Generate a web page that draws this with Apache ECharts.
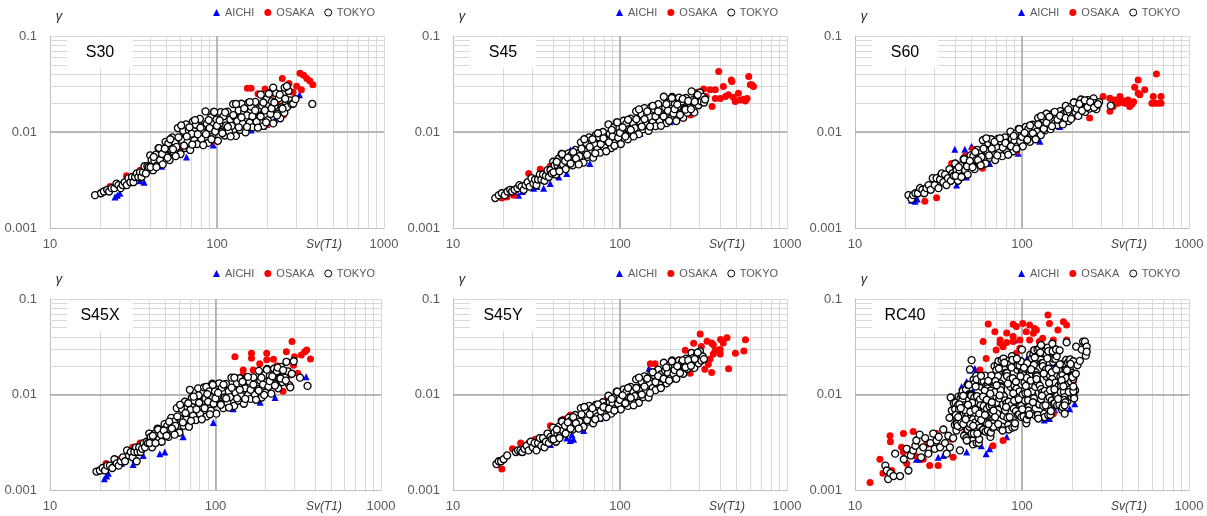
<!DOCTYPE html>
<html><head><meta charset="utf-8">
<script src="https://cdn.jsdelivr.net/npm/echarts@6/dist/echarts.min.js"></script>
<style>html,body{margin:0;padding:0;background:#fff}#c{width:1207px;height:516px}</style>
</head><body><div id="c"></div>
<script>
// ---------- texts / ticks ----------
const panelNames = ['S30', 'S45', 'S60', 'S45X', 'S45Y', 'RC40'];
const seriesNames = ['AICHI', 'OSAKA', 'TOKYO'];
const xTickLabels = ['10', '100', '1000'];
const yTickLabels = ['0.001', '0.01', '0.1'];
const xMinorLines = [20, 30, 40, 50, 60, 70, 80, 90, 200, 300, 400, 500, 600, 700, 800, 900];
const yMinorLines = [0.002, 0.003, 0.004, 0.005, 0.006, 0.007, 0.008, 0.009, 0.02, 0.03, 0.04, 0.05, 0.06, 0.07, 0.08, 0.09];
const xMajorLines = [100];
const yMajorLines = [0.01];
const xAxisName = 'Sv(T1)';
const yAxisName = 'γ';

// ---------- data: [Sv(T1), γ] ----------
const s30_aichi = [[24.5,0.0021],[25.3,0.0022],[26.2,0.0023],[34.6,0.0031],[36.6,0.003],[46.6,0.0044],[65.7,0.0055],[95,0.0073],[131,0.0097],[160,0.0105],[189,0.0114],[222,0.0134],[312,0.0244],[198,0.012]];
const s30_osaka = [[22.9,0.0027],[28.7,0.0035],[34.6,0.004],[43.5,0.0056],[55,0.006],[62,0.0068],[95,0.008],[115,0.0095],[137,0.011],[170,0.0115],[198,0.0119],[240,0.015],[250,0.015],[152,0.0286],[160,0.0286],[176,0.025],[194,0.028],[246,0.036],[270,0.032],[314,0.041],[330,0.039],[345,0.036],[360,0.034],[375,0.031],[320,0.0275],[300,0.03],[285,0.026],[230,0.021],[210,0.025],[260,0.022]];
const s30_tokyo = [[18.6,0.0022],[20.2,0.0023],[21,0.0024],[22,0.0025],[22.6,0.0024],[23.4,0.0026],[24.3,0.0026],[25,0.0029],[25.7,0.0028],[26.5,0.0026],[27.2,0.0028],[28,0.003],[28.8,0.0028],[29.5,0.0033],[30.3,0.003],[31,0.0034],[31.6,0.003],[32.3,0.0034],[33.1,0.0037],[33.8,0.0034],[34.6,0.0038],[35.3,0.0034],[36,0.0038],[36.8,0.0044],[37.5,0.0037],[38.3,0.0044],[39,0.0043],[39.8,0.0057],[40.6,0.0051],[41.4,0.004],[42.2,0.005],[43,0.0058],[43.9,0.0045],[44.7,0.0068],[45.6,0.0051],[46.5,0.0064],[47.3,0.0046],[48.2,0.0062],[49.2,0.0079],[50.1,0.0056],[51.1,0.0076],[52,0.0051],[53,0.0066],[54,0.0088],[55.1,0.0061],[56.1,0.0078],[57.2,0.007],[58.3,0.011],[59.4,0.0087],[60.5,0.0059],[61.7,0.0082],[62.9,0.0103],[64.1,0.0068],[65.3,0.012],[66.6,0.0079],[67.8,0.0104],[69.1,0.0065],[70.5,0.0096],[71.8,0.0129],[73.2,0.0082],[74.6,0.0119],[76.1,0.0075],[77.5,0.0097],[79,0.0137],[80.6,0.0085],[82.1,0.0114],[83.7,0.0098],[85.3,0.0164],[86.9,0.0122],[88.6,0.0077],[90.3,0.011],[92,0.0142],[93.8,0.0089],[95.6,0.0162],[97.5,0.0101],[99.3,0.0135],[101.2,0.0081],[103.2,0.0121],[105.2,0.0161],[107.2,0.0101],[109.3,0.0146],[111.4,0.0092],[113.5,0.0117],[115.7,0.0163],[117.9,0.0101],[120.2,0.0135],[122.5,0.0116],[124.9,0.0195],[127.3,0.0145],[129.7,0.0091],[132.2,0.013],[134.8,0.0168],[137.4,0.0105],[140,0.0197],[142.7,0.0122],[145.5,0.0162],[148.3,0.0099],[151.1,0.0149],[154,0.0201],[157,0.0125],[160,0.0184],[163.1,0.0112],[166.3,0.0146],[169.5,0.0206],[172.7,0.0128],[176.1,0.0172],[179.5,0.0148],[182.9,0.0245],[186.5,0.0187],[190.1,0.0116],[193.7,0.0168],[197.5,0.0219],[201.3,0.0133],[205.2,0.0254],[209.1,0.0154],[213.2,0.0208],[217.3,0.0123],[221.5,0.0187],[225.8,0.0253],[230.1,0.0155],[234.6,0.0225],[239.1,0.0139],[243.7,0.0181],[248.4,0.0249],[253.2,0.0159],[258.1,0.0206],[263.1,0.0182],[268.2,0.0268],[273.4,0.0214],
[40,0.0043],[41.8,0.0055],[43.4,0.0043],[45,0.0068],[46.9,0.0059],[48.7,0.0067],[50.6,0.0054],[52.5,0.0084],[54.5,0.0066],[56.6,0.0056],[58.8,0.0088],[61.1,0.0117],[63.5,0.0072],[65.9,0.009],[68.4,0.0112],[71.1,0.0074],[73.8,0.0133],[76.7,0.0095],[79.6,0.0111],[82.7,0.0073],[85.9,0.0095],[89.2,0.0133],[92.6,0.0084],[96.2,0.0162],[99.9,0.0116],[103.7,0.0132],[107.7,0.0097],[111.8,0.016],[116.1,0.0113],[120.6,0.009],[125.2,0.015],[130,0.0196],[135,0.0112],[140.2,0.0142],[145.6,0.0176],[151.2,0.0113],[157,0.0205],[163,0.0146],[169.3,0.0168],[175.8,0.0111],[182.5,0.0145],[189.5,0.0203],[196.8,0.0126],[204.4,0.025],[212.2,0.0176],[220.4,0.0203],[228.8,0.0149],[237.6,0.0245],[246.8,0.0175],[256.3,0.0222],
[217,0.029],[254,0.029],[262,0.03],[280,0.0195],[286,0.0197],[295,0.022],[372,0.0196]];

const s45_aichi = [[23.1,0.0023],[24.7,0.0022],[26,0.0024],[30.4,0.0026],[31.8,0.0027],[34.9,0.0026],[38.2,0.0029],[43,0.0034],[48,0.0037],[50.4,0.0065],[66,0.0047],[91.5,0.0071],[132,0.0097],[200,0.0128]];
const s45_osaka = [[19.6,0.00205],[21,0.0021],[23.1,0.0022],[28.4,0.0037],[33.3,0.0041],[38.2,0.0044],[44,0.0049],[52.8,0.0055],[76,0.0077],[120,0.0097],[191,0.0128],[240,0.0139],[265,0.015],[276,0.0216],[290,0.026],[300,0.024],[317,0.028],[328,0.0234],[346,0.0275],[356,0.0184],[372,0.0275],[372,0.0223],[390,0.0426],[399,0.0223],[416,0.0298],[428,0.0234],[446,0.0244],[464,0.0349],[468,0.0335],[477,0.023],[490,0.0208],[512,0.0254],[525,0.0216],[550,0.0219],[563,0.021],[576,0.0223],[590,0.0378],[603,0.031],[615,0.031],[630,0.0298]];
const s45_tokyo = [[17.9,0.00205],[18.8,0.0022],[19.6,0.0023],[20.4,0.0022],[21.2,0.0024],[22,0.0025],[22.6,0.0024],[23.4,0.0025],[24.3,0.0026],[25,0.0028],[25.7,0.0027],[26.5,0.0025],[27.2,0.0028],[28,0.003],[28.8,0.0027],[29.5,0.0033],[30.3,0.0029],[31,0.0032],[31.6,0.0028],[32.3,0.0032],[33.1,0.0036],[33.8,0.0032],[34.6,0.0036],[35.3,0.0031],[36,0.0035],[36.8,0.004],[37.5,0.0034],[38.3,0.004],[39,0.0037],[39.8,0.0049],[40.6,0.0045],[41.4,0.0036],[42.2,0.0045],[43,0.0053],[43.9,0.0041],[44.7,0.0059],[45.6,0.0046],[46.5,0.0053],[47.3,0.0041],[48.2,0.0051],[49.2,0.006],[50.1,0.0048],[51.1,0.0058],[52,0.0045],[53,0.0053],[54,0.0065],[55.1,0.005],[56.1,0.006],[57.2,0.0056],[58.3,0.0078],[59.4,0.0066],[60.5,0.0048],[61.7,0.0063],[62.9,0.0077],[64.1,0.0055],[65.3,0.0088],[66.6,0.0063],[67.8,0.0078],[69.1,0.0054],[70.5,0.0074],[71.8,0.0093],[73.2,0.0066],[74.6,0.0088],[76.1,0.0061],[77.5,0.0076],[79,0.01],[80.6,0.0069],[82.1,0.0088],[83.7,0.0081],[85.3,0.012],[86.9,0.0096],[88.6,0.0068],[90.3,0.009],[92,0.0112],[93.8,0.0077],[95.6,0.0126],[97.5,0.0087],[99.3,0.011],[101.2,0.0075],[103.2,0.0104],[105.2,0.0131],[107.2,0.0092],[109.3,0.0123],[111.4,0.0084],[113.5,0.0107],[115.7,0.0138],[117.9,0.0097],[120.2,0.0122],[122.5,0.011],[124.9,0.0164],[127.3,0.0133],[129.7,0.0095],[132.2,0.0126],[134.8,0.0153],[137.4,0.0107],[140,0.0177],[142.7,0.0121],[145.5,0.0153],[148.3,0.0103],[151.1,0.0144],[154,0.0183],[157,0.0126],[160,0.0173],[163.1,0.0115],[166.3,0.0146],[169.5,0.0195],[172.7,0.0131],[176.1,0.0169],[179.5,0.0149],[182.9,0.0233],[186.5,0.018],[190.1,0.0124],[193.7,0.0167],[197.5,0.0204],[201.3,0.0139],[205.2,0.0232],[209.1,0.0156],[213.2,0.0197],[217.3,0.013],[221.5,0.0181],[225.8,0.0228],[230.1,0.0156],[234.6,0.0208],[239.1,0.0141],[243.7,0.0174],[248.4,0.0226],[253.2,0.0159],[258.1,0.02],[263.1,0.018],[268.2,0.0265],[273.4,0.0215],[278.7,0.016],[284.1,0.0205],[289.7,0.0237],[295.3,0.019],[301,0.0258],[306.9,0.0208],[312.8,0.0232],[318.9,0.0203],[323,0.0218],
[40,0.0038],[41.8,0.0049],[43.4,0.0039],[45,0.0059],[46.9,0.005],[48.7,0.0054],[50.6,0.0047],[52.5,0.0062],[54.5,0.0053],[56.6,0.0046],[58.8,0.0067],[61.1,0.0084],[63.5,0.0058],[65.9,0.007],[68.4,0.0084],[71.1,0.006],[73.8,0.0097],[76.7,0.0075],[79.6,0.0086],[82.7,0.0063],[85.9,0.0078],[89.2,0.0105],[92.6,0.0072],[96.2,0.0126],[99.9,0.0098],[103.7,0.0112],[107.7,0.009],[111.8,0.0134],[116.1,0.0105],[120.6,0.009],[125.2,0.0136],[130,0.0172],[135,0.0114],[140.2,0.0136],[145.6,0.0164],[151.2,0.0114],[157,0.0187],[163,0.0145],[169.3,0.0164],[175.8,0.0116],[182.5,0.0145],[189.5,0.0195],[196.8,0.0131],[204.4,0.0226],[212.2,0.0173],[220.4,0.0193],[228.8,0.0151],[237.6,0.0221],[246.8,0.0171],[256.3,0.0211],[266,0.0173],[280,0.0207],[292,0.0244]];

const s60_aichi = [[21.8,0.00195],[22.9,0.0019],[23.6,0.002],[24.5,0.0027],[28,0.0028],[32.2,0.0037],[39.6,0.0066],[45.5,0.0066],[49.9,0.0071],[40.6,0.0028],[46.5,0.0034],[64,0.0047],[95,0.006],[128,0.008],[168,0.0114],[220,0.015]];
const s60_osaka = [[26.2,0.0019],[30.8,0.00206],[29.4,0.0033],[32.2,0.0035],[35.4,0.0032],[37.9,0.0047],[38.7,0.0037],[45.5,0.0056],[51,0.0066],[58,0.0042],[74,0.0066],[93,0.0063],[116,0.0097],[150,0.012],[254,0.014],[306,0.0235],[336,0.0225],[336,0.0164],[352,0.0184],[360,0.0216],[377,0.0199],[386,0.0235],[394,0.0216],[400,0.0205],[412,0.0199],[420,0.021],[432,0.0216],[441,0.0184],[455,0.0195],[466,0.0207],[473,0.0292],[496,0.0349],[496,0.0254],[508,0.0244],[543,0.0275],[600,0.0199],[611,0.0235],[623,0.0199],[638,0.0402],[650,0.0199],[680,0.0235],[680,0.0199]];
const s60_tokyo = [[20.9,0.0022],[21.8,0.002],[22.3,0.0022],[23,0.0023],[23.8,0.0023],[24.5,0.0026],[25.3,0.0025],[26,0.0023],[26.8,0.0026],[27.6,0.0028],[28.4,0.0025],[29.2,0.0033],[30,0.0028],[30.8,0.0033],[31.6,0.0026],[32.3,0.0032],[33.1,0.0037],[33.8,0.003],[34.6,0.0036],[35.3,0.0028],[36,0.0033],[36.8,0.0041],[37.5,0.0031],[38.3,0.0037],[39,0.0035],[39.8,0.0047],[40.6,0.004],[41.4,0.0031],[42.2,0.0038],[43,0.0045],[43.9,0.0035],[44.7,0.0052],[45.6,0.004],[46.5,0.0048],[47.3,0.0036],[48.2,0.0047],[49.2,0.0057],[50.1,0.0044],[51.1,0.0056],[52,0.0041],[53,0.0051],[54,0.0065],[55.1,0.0048],[56.1,0.006],[57.2,0.0055],[58.3,0.0082],[59.4,0.0066],[60.5,0.0047],[61.7,0.0063],[62.9,0.0076],[64.1,0.0054],[65.3,0.0084],[66.6,0.006],[67.8,0.0074],[69.1,0.0051],[70.5,0.0069],[71.8,0.0085],[73.2,0.0061],[74.6,0.008],[76.1,0.0056],[77.5,0.0069],[79,0.0088],[80.6,0.0064],[82.1,0.0078],[83.7,0.0072],[85.3,0.0101],[86.9,0.0085],[88.6,0.0063],[90.3,0.0081],[92,0.0096],[93.8,0.0071],[95.6,0.0108],[97.5,0.008],[99.6,0.0098],[101.2,0.0071],[103.2,0.0093],[105.2,0.0113],[107.2,0.0084],[109.3,0.0108],[111.4,0.0079],[113.5,0.0095],[115.7,0.0119],[117.9,0.009],[120.2,0.0109],[122.5,0.0101],[124.9,0.014],[127.3,0.012],[129.7,0.0093],[132.2,0.0115],[134.8,0.0135],[137.4,0.0104],[140,0.0155],[142.7,0.0116],[145.5,0.0139],[148.3,0.0107],[151.1,0.0134],[154,0.0157],[157,0.0123],[160,0.0151],[163.1,0.0118],[166.3,0.0138],[169.5,0.0165],[172.7,0.0129],[176.1,0.0153],[179.5,0.0142],[182.9,0.0187],[186.5,0.0162],[190.1,0.013],[193.7,0.0159],[197.5,0.0184],[201.3,0.0145],[205.2,0.0204],[209.1,0.0161],[213.2,0.0192],[217.3,0.0147],[221.5,0.0188],[225.8,0.0218],[230.1,0.0171],[234.6,0.0206],[239.1,0.0162],[243.7,0.0185],[248.4,0.0215],[253.2,0.0175],[258.1,0.0197],[263.1,0.0188],[268.2,0.0224],[273.4,0.02],[278.7,0.0173],[284.1,0.0192],[289.7,0.0205],[340,0.0188],
[40,0.0035],[41.8,0.0043],[43.4,0.0034],[45,0.0052],[46.9,0.0044],[48.7,0.005],[50.6,0.0043],[52.5,0.0062],[54.5,0.0051],[56.6,0.0045],[58.8,0.0067],[61.1,0.0086],[63.5,0.0057],[65.9,0.0067],[68.4,0.0079],[71.1,0.0057],[73.8,0.0086],[76.7,0.0069],[79.6,0.0077],[82.7,0.0058],[85.9,0.0071],[89.2,0.0091],[92.6,0.0067],[96.2,0.0107],[99.9,0.0089],[103.7,0.0098],[107.7,0.0083],[111.8,0.0117],[116.1,0.0097],[120.6,0.0084],[125.2,0.012],[130,0.0146],[135,0.0108],[140.2,0.0125],[145.6,0.0144],[151.2,0.0115],[157,0.0162],[163,0.0135],[169.3,0.0148],[175.8,0.012],[182.5,0.014],[189.5,0.0172],[196.8,0.0137],[204.4,0.0203],[212.2,0.0175],[220.4,0.0196],[228.8,0.0167],[237.6,0.0214],[246.8,0.0182],[256.3,0.0205],[270,0.018],[285,0.0195]];

const s45x_aichi = [[21.3,0.00131],[22,0.0014],[22.5,0.0015],[27,0.0019],[31.8,0.00185],[32.6,0.0021],[36.6,0.0023],[46.1,0.0024],[49.4,0.0025],[63.8,0.0036],[97,0.0051],[128,0.0071],[186,0.0083],[229,0.0093],[256,0.0142],[353,0.0153]];
const s45x_osaka = [[21.8,0.0019],[25.3,0.0021],[31.6,0.0028],[35,0.0031],[44,0.0039],[55.5,0.0046],[80,0.0059],[117,0.0074],[131,0.0249],[147,0.0181],[147,0.0161],[165,0.027],[165,0.024],[169,0.0181],[185,0.021],[204,0.027],[204,0.0231],[214,0.0126],[224,0.0234],[235,0.02],[240,0.0142],[250,0.017],[256,0.0108],[268,0.028],[283,0.016],[290,0.0358],[296,0.0203],[300,0.0249],[314,0.0167],[330,0.0259],[346,0.028],[356,0.0292],[375,0.0236]];
const s45x_tokyo = [[19.1,0.00156],[20,0.0016],[20.8,0.0017],[21.5,0.0016],[22.2,0.0018],[23,0.0018],[23.8,0.0017],[24.5,0.0021],[25.3,0.0019],[26,0.0018],[26.8,0.002],[27.6,0.0022],[28.4,0.002],[29.2,0.0026],[30,0.0023],[30.8,0.0025],[31.6,0.0022],[32.3,0.0025],[33.1,0.0028],[33.4,0.002],[33.8,0.0025],[34.6,0.0028],[35.3,0.0025],[36,0.0027],[36.8,0.0031],[37.5,0.0028],[38.3,0.0032],[39,0.0031],[39.8,0.0039],[40.6,0.0036],[41.4,0.0028],[42.2,0.0034],[43,0.0039],[43.9,0.0032],[44.7,0.0044],[45.6,0.0034],[46.5,0.0041],[47.3,0.0032],[48.2,0.004],[49.2,0.0049],[50.1,0.0037],[51.1,0.0047],[52,0.0036],[53,0.0043],[54,0.0057],[55.1,0.0041],[56.1,0.0052],[57.2,0.0047],[58.3,0.0072],[59.4,0.0058],[60.5,0.004],[61.7,0.0055],[62,0.0077],[62.9,0.007],[64.1,0.0047],[65.3,0.0084],[66.6,0.0055],[67.8,0.0073],[69.1,0.0046],[70,0.0112],[70.5,0.0069],[71.8,0.0092],[73.2,0.006],[74.6,0.0086],[76.1,0.0054],[77.5,0.0071],[78.5,0.0116],[79,0.0098],[80.6,0.0063],[82.1,0.0083],[83.7,0.0073],[85.3,0.0119],[86.9,0.0091],[88,0.012],[88.6,0.0059],[90.3,0.0084],[92,0.0108],[93.8,0.0068],[95.6,0.013],[97.5,0.008],[99.3,0.0108],[101.2,0.0063],[103.2,0.0097],[105.2,0.0131],[107.2,0.008],[109.3,0.0118],[111.4,0.0072],[113.5,0.0093],[115.7,0.0129],[117.9,0.0082],[120.2,0.0108],[122.5,0.0094],[124.9,0.015],[127.3,0.0115],[129.7,0.0076],[132.2,0.0104],[134.8,0.0131],[137.4,0.0086],[140,0.0148],[142.7,0.0097],[145.5,0.0126],[148.3,0.008],[151.1,0.0116],[154,0.015],[157,0.0099],[160,0.0137],[163.1,0.009],[166.3,0.0113],[169.5,0.0151],[172.7,0.01],[176.1,0.013],[179.5,0.0114],[182.9,0.0177],[186.5,0.014],[190.1,0.0093],[193.7,0.0127],[197.5,0.016],[201.3,0.0105],[205.2,0.0185],[209.1,0.0121],[213.2,0.0157],[217.3,0.0102],[221.5,0.0146],[225.8,0.0186],[230.1,0.0128],[234.6,0.0175],[239.1,0.0116],[243.7,0.0148],[248.4,0.0195],[253.2,0.0135],[258.1,0.017],[263.1,0.015],[268.2,0.022],[273.4,0.0175],[278.7,0.0126],[283,0.0119],[289,0.0165],[297,0.0223],[324,0.015],[360,0.0123],
[40,0.0031],[41.8,0.0037],[43.4,0.0031],[45,0.0043],[46.9,0.0038],[48.7,0.0042],[50.6,0.0037],[52.5,0.0052],[54.5,0.0044],[56.6,0.0038],[58.8,0.0059],[61.1,0.0078],[63.5,0.0051],[65.9,0.0064],[68.4,0.0081],[71.1,0.0053],[73.8,0.0095],[76.7,0.007],[79.6,0.0082],[82.7,0.0055],[85.9,0.0072],[89.2,0.0101],[92.6,0.0062],[96.2,0.0126],[99.9,0.0091],[103.7,0.0104],[107.7,0.0078],[111.8,0.0127],[116.1,0.0091],[120.6,0.0073],[125.2,0.0118],[130,0.015],[135,0.0091],[140.2,0.0112],[145.6,0.0136],[151.2,0.009],[157,0.0153],[163,0.0112],[169.3,0.0127],[175.8,0.0088],[182.5,0.011],[189.5,0.015],[196.8,0.0099],[204.4,0.0182],[212.2,0.0138],[220.4,0.0155],[228.8,0.0124],[237.6,0.0191],[246.8,0.0147],[256.3,0.018],[266,0.014]];

const s45y_aichi = [[25.9,0.0025],[32,0.0028],[38.3,0.003],[48,0.0035],[50.4,0.0033],[52.7,0.0034],[51.6,0.0038],[60.6,0.0042],[76,0.0056],[149,0.0188],[159,0.011],[195,0.0164],[200,0.0144]];
const s45y_osaka = [[19.6,0.00166],[22.7,0.0027],[25.4,0.0031],[28.4,0.0031],[31.1,0.0034],[38.3,0.0047],[45.9,0.0055],[50.4,0.0061],[76,0.0078],[83.5,0.0089],[152,0.021],[162,0.021],[208,0.0167],[246,0.0291],[263,0.0167],[276,0.0344],[288,0.0236],[302,0.043],[307,0.0318],[322,0.0184],[332,0.036],[338,0.0207],[346,0.0236],[354,0.0346],[354,0.017],[362,0.0332],[362,0.0266],[372,0.029],[382,0.0291],[398,0.0296],[398,0.0266],[400,0.0376],[415,0.0346],[437,0.0393],[447,0.0186],[491,0.027],[552,0.0285],[564,0.0374]];
const s45y_tokyo = [[18.2,0.00187],[18.8,0.002],[19.4,0.002],[20.1,0.0021],[21.1,0.0023],[23.8,0.0025],[24.5,0.0026],[25.3,0.0026],[26,0.0025],[26.8,0.0027],[27.6,0.0029],[28.4,0.0026],[29.2,0.0032],[30,0.0028],[30.8,0.0031],[31.6,0.0026],[32.3,0.0031],[33.1,0.0035],[33.8,0.0029],[34.6,0.0035],[35.3,0.0028],[36,0.0032],[36.8,0.0039],[37.5,0.0031],[38.3,0.0036],[39,0.0034],[39.8,0.0045],[40.6,0.004],[41.4,0.0032],[42.2,0.0039],[43,0.0046],[43.9,0.0037],[44.7,0.0053],[45.6,0.0042],[46.5,0.0049],[47.3,0.0039],[48.2,0.0049],[49.2,0.0057],[50.1,0.0045],[51.1,0.0054],[52,0.0043],[53,0.005],[54,0.0061],[55.1,0.0047],[56.1,0.0056],[57.2,0.0052],[58.3,0.0072],[59.4,0.0061],[60.5,0.0046],[61.7,0.0058],[62.9,0.0068],[64.1,0.0052],[65.3,0.0076],[66.6,0.0057],[67.8,0.0068],[69.1,0.005],[70.5,0.0065],[71.8,0.0078],[73.2,0.0059],[74.6,0.0074],[76.1,0.0057],[77.5,0.0067],[79,0.0083],[80.6,0.0063],[82.1,0.0076],[83.7,0.0071],[85.3,0.0097],[86.9,0.0083],[88.6,0.0063],[90.3,0.008],[92,0.0093],[93.8,0.0072],[95.6,0.0107],[97.5,0.008],[99.3,0.0097],[101.2,0.007],[103.2,0.0093],[105.2,0.0113],[107.2,0.0083],[109.3,0.0107],[111.4,0.0076],[113.5,0.0093],[115.7,0.012],[117.9,0.0085],[120.2,0.0106],[122.5,0.0096],[124.9,0.0144],[127.3,0.0116],[129.7,0.0082],[132.2,0.011],[134.8,0.0136],[137.4,0.0094],[140,0.0155],[142.7,0.0108],[145.5,0.0139],[148.3,0.0093],[151.1,0.013],[154,0.0167],[157,0.0117],[160,0.0159],[163.1,0.0111],[166.3,0.0139],[169.5,0.0182],[172.7,0.0128],[176.1,0.0163],[179.5,0.0147],[182.9,0.0215],[186.5,0.0178],[190.1,0.0131],[193.7,0.0169],[197.5,0.0203],[201.3,0.0148],[205.2,0.0228],[209.1,0.0165],[213.2,0.0201],[217.3,0.0146],[221.5,0.019],[225.8,0.0227],[230.1,0.0173],[234.6,0.0215],[239.1,0.0165],[243.7,0.0195],[248.4,0.0237],[253.2,0.0186],[258.1,0.0221],[263.1,0.0206],[268.2,0.0272],[273.4,0.024],[278.7,0.019],[284.1,0.0233],[289.7,0.0267],[295.3,0.0212],[301,0.0283],[306.9,0.0227],[312.8,0.025],[318,0.0235],
[40,0.0034],[41.8,0.0043],[43.4,0.0035],[45,0.0052],[46.9,0.0047],[48.7,0.0051],[50.6,0.0044],[52.5,0.0058],[54.5,0.005],[56.6,0.0044],[58.8,0.0062],[61.1,0.0074],[63.5,0.0054],[65.9,0.0062],[68.4,0.0072],[71.1,0.0055],[73.8,0.0079],[76.7,0.0067],[79.6,0.0074],[82.7,0.0058],[85.9,0.0071],[89.2,0.009],[92.6,0.0068],[96.2,0.0107],[99.9,0.0088],[103.7,0.0098],[107.7,0.0081],[111.8,0.0117],[116.1,0.0092],[120.6,0.0077],[125.2,0.0117],[130,0.015],[135,0.01],[140.2,0.0121],[145.6,0.0147],[151.2,0.0104],[157,0.0171],[163,0.0135],[169.3,0.0156],[175.8,0.0117],[182.5,0.0146],[189.5,0.0192],[196.8,0.014],[204.4,0.0223],[212.2,0.018],[220.4,0.0198],[228.8,0.0168],[237.6,0.0228],[246.8,0.0193],[256.3,0.0229],[266,0.02],[280,0.0235],[292,0.0275]];

const rc40_aichi = [[23.3,0.0021],[24.4,0.0021],[31.5,0.0022],[33.8,0.0023],[43.5,0.0121],[45.5,0.0116],[46.6,0.0137],[46.6,0.0025],[48.8,0.018],[51,0.0108],[52.2,0.0187],[56,0.0148],[57,0.0029],[61,0.0024],[64,0.0027],[74,0.0229],[81,0.0036],[90,0.0373],[108,0.0246],[122,0.0305],[136,0.0054],[146,0.0056],[152,0.0212],[157,0.0069],[193,0.0071],[207,0.008]];
const rc40_osaka = [[12.3,0.0012],[14.1,0.0021],[14.7,0.0015],[16.2,0.0037],[16.3,0.0032],[16.6,0.0016],[19,0.0028],[19.5,0.0039],[19.5,0.0025],[20.4,0.0019],[22.3,0.0041],[22.8,0.0023],[25.6,0.0021],[26.8,0.003],[28,0.0018],[30.8,0.0039],[31.5,0.0018],[37.9,0.0034],[38.7,0.0022],[40.6,0.0051],[45.5,0.0039],[51,0.0051],[53,0.0148],[56,0.018],[58.5,0.0358],[61,0.0238],[62.7,0.0548],[67,0.0029],[68.8,0.0455],[70,0.0293],[74,0.0344],[74,0.0373],[77,0.0317],[77,0.0033],[81,0.035],[81,0.044],[88.5,0.0544],[88.5,0.0358],[88.5,0.0404],[92.5,0.0514],[92.5,0.027],[97,0.0373],[97,0.0305],[101,0.0555],[106,0.0455],[111,0.0533],[111,0.0373],[117,0.0437],[117,0.0293],[119,0.049],[122,0.0473],[127,0.0358],[127,0.0058],[133,0.0388],[143,0.0679],[146,0.0555],[154,0.0373],[154,0.0063],[157,0.008],[164,0.0473],[177,0.0578],[185,0.0533],[185,0.0373],[203,0.0137]];
const rc40_tokyo = [[15.2,0.0018],[15.5,0.0016],[15.8,0.0013],[16.3,0.0015],[17,0.0014],[17.4,0.0024],[18.6,0.0014],[19.6,0.0021],[20.4,0.0027],[20.9,0.0016],[21.6,0.0023],[22.3,0.0026],[23,0.0029],[23.3,0.0033],[24.4,0.0038],[24.9,0.0022],[25.6,0.0028],[26.3,0.0035],[27.5,0.0024],[28.3,0.0031],[29.4,0.0039],[30,0.0027],[30.8,0.0033],[31.7,0.0036],[32.3,0.0028],[33.8,0.0043],[34.6,0.0031],[35.4,0.0024],[36.2,0.0037],[37,0.0028],[37.4,0.0093],[38.7,0.0035],[36.8,0.0057],[38,0.0068],[39,0.0081],[39.6,0.0048],[40.5,0.0042],[41,0.0088],[42.5,0.0026],[48.8,0.0183],[49.9,0.0229],
[40,0.0082],[40.5,0.0056],[39.8,0.007],[40.8,0.0049],[41,0.0051],[41.5,0.0078],[40.7,0.0049],[41.8,0.0066],[42,0.0069],[42.5,0.0046],[41.7,0.0095],[42.8,0.0091],[43.1,0.0057],[43.6,0.0099],[42.8,0.006],[43.9,0.0054],[44.2,0.0109],[44.8,0.0062],[43.9,0.0087],[45,0.0077],[45.3,0.0073],[45.9,0.0073],[45,0.0037],[46.2,0.0113],[46.4,0.0035],[47,0.0043],[46.1,0.0064],[47.3,0.0043],[47.6,0.0061],[48.2,0.0101],[47.3,0.0126],[48.5,0.0056],[48.7,0.01],[49.3,0.0053],[48.4,0.0046],[49.6,0.01],[50,0.0039],[50.6,0.0033],[49.7,0.0097],[50.9,0.003],[51.2,0.0143],[51.8,0.0093],[50.9,0.0055],[52.2,0.0078],[52.5,0.0051],[53.2,0.0157],[52.2,0.0132],[53.5,0.0144],[53.8,0.0096],[54.5,0.0048],[53.5,0.0031],[54.8,0.0057],[55.1,0.0031],[55.8,0.0075],[54.8,0.0082],[56.1,0.0089],[56.5,0.0077],[57.2,0.012],[56.2,0.0045],[57.6,0.0042],[57.9,0.015],[58.6,0.0043],[57.6,0.0137],[59,0.0137],[59.4,0.0053],[60.1,0.0158],[59,0.0076],[60.5,0.0053],[60.9,0.0123],[61.7,0.0071],[60.5,0.0041],[62.1,0.0123],[62.4,0.0042],[63.2,0.0096],[62,0.0116],[63.6,0.008],[63.9,0.0075],[64.7,0.0036],[63.5,0.0063],[65.1,0.004],
[65.5,0.0158],[66.3,0.0064],[65.1,0.011],[66.7,0.0045],[67.2,0.0055],[68,0.0135],[66.8,0.005],[68.5,0.0094],[68.9,0.0106],[69.8,0.0047],[68.5,0.0198],[70.2,0.0181],[70.6,0.0075],[71.5,0.0202],[70.2,0.0082],[71.9,0.0069],[72.3,0.0224],[73.2,0.0091],[71.9,0.0156],[73.7,0.0131],[74.1,0.0122],[75,0.0118],[73.7,0.0045],[75.5,0.0229],[76,0.0046],[77,0.006],[75.5,0.0103],[77.4,0.006],[77.9,0.0096],[78.9,0.0181],[77.4,0.0238],[79.4,0.0087],[79.8,0.0168],[80.8,0.0081],[79.3,0.0068],[81.3,0.0168],[81.8,0.0057],[82.8,0.0048],[81.3,0.0156],[83.4,0.0043],[83.9,0.0228],[85,0.0144],[83.4,0.0084],[85.5,0.012],[86,0.0077],[87.1,0.0252],[85.5,0.021],[87.6,0.023],[88.1,0.0148],[89.2,0.0071],[87.6,0.0045],[89.8,0.0086],[90.3,0.0046],[91.4,0.0114],[89.8,0.0124],[92,0.0136],[92.6,0.0115],[93.8,0.0181],[92,0.0067],[94.4,0.0061],[94.9,0.022],[96.1,0.0062],[94.3,0.0201],[96.7,0.0201],[97.3,0.0076],[98.5,0.0223],[96.7,0.0108],[99.1,0.0076],[99.7,0.0172],[100.9,0.01],[99.1,0.0058],[101.6,0.0172],[102.2,0.0059],[103.5,0.0133],[101.6,0.0159],[104.1,0.0111],[104.8,0.0103],[106.1,0.005],[104.2,0.0086],[106.8,0.0055],
[107.4,0.0213],[108.7,0.0087],[106.8,0.0149],[109.4,0.0061],[110.1,0.0074],[111.5,0.0181],[109.4,0.0068],[112.2,0.0126],[112.8,0.014],[114.2,0.0063],[112.1,0.0261],[114.9,0.0239],[115.6,0.0099],[117,0.0264],[114.9,0.0108],[117.8,0.0091],[118.5,0.0291],[120,0.012],[117.8,0.0204],[120.8,0.0171],[121.5,0.0159],[123,0.0155],[120.8,0.006],[123.8,0.0295],[124.5,0.0061],[126.1,0.0079],[123.8,0.0135],[126.9,0.0079],[127.7,0.0124],[129.3,0.0231],[126.9,0.0301],[130.1,0.0114],[130.9,0.0213],[132.5,0.0106],[130.1,0.0089],[133.4,0.0213],[134.1,0.0076],[135.8,0.0063],[133.3,0.0198],[136.6,0.0058],[137.5,0.0283],[139.2,0.0183],[136.7,0.0109],[140.1,0.0154],[140.9,0.0101],[142.7,0.031],[140.1,0.0261],[143.6,0.0285],[144.4,0.0186],[146.2,0.0093],[143.5,0.0061],[147.1,0.0111],[148,0.0061],[149.9,0.0145],[147.1,0.0157],[150.8,0.0171],[151.7,0.0145],[153.6,0.022],[150.8,0.0087],[154.6,0.008],[155.5,0.0256],[157.4,0.0081],[154.6,0.0236],[158.5,0.0236],[159.4,0.0097],[161.4,0.0252],[158.4,0.0133],[162.4,0.0097],[163.4,0.0195],[165.4,0.0123],[162.4,0.0077],[166.5,0.0195],[167.5,0.0078],[169.6,0.0154],[166.5,0.0179],[170.7,0.0132],[171.7,0.0122],[173.8,0.0069],[170.7,0.0106],[175,0.0074],
[176,0.021],[178.2,0.0106],[174.9,0.016],[179.3,0.0081],[180.4,0.0094],[182.7,0.0181],[179.3,0.0088],[183.8,0.0139],[184.9,0.0149],[187.2,0.0085],[183.8,0.023],[188.4,0.0216],[189.5,0.0119],[191.9,0.0226],[188.4,0.0126],[193.1,0.0113],[194.2,0.0233],[196.6,0.0136],[193,0.0188],[197.9,0.0169],[199.1,0.0159],[201.6,0.0159],[197.9,0.0094],[202.9,0.0223],[204.1,0.0095],[206.7,0.011],[202.9,0.0145],[208,0.011],
[40.2,0.0061],[41.2,0.0047],[42.2,0.0079],[43.4,0.0051],[44.5,0.0097],[45.6,0.0069],[46.7,0.0033],[47.9,0.0126],[49,0.0049],[50.3,0.0082],[51.5,0.0039],[52.8,0.0121],[54.1,0.0068],[55.4,0.0034],[56.8,0.0157],[58.2,0.0061],[59.8,0.011],[61.3,0.005],[62.8,0.0139],[64.3,0.009],[65.9,0.0077],[67.6,0.0046],[69.3,0.0138],[71,0.0063],[72.7,0.0187],[74.5,0.0111],[76.5,0.0042],[78.4,0.0215],[80.3,0.0074],[82.3,0.013],[84.4,0.0058],[86.5,0.0192],[88.6,0.0103],[90.8,0.005],[93.2,0.0237],[95.5,0.0089],[97.9,0.0155],[100.3,0.007],[102.8,0.0191],[105.4,0.0123],[108,0.0104],[110.8,0.0062],[113.5,0.0183],[116.3,0.0083],[119.2,0.0244],[122.2,0.0145],[125.3,0.0056],[128.5,0.0275],[131.7,0.0097],[134.9,0.0166],[138.3,0.0077],[141.8,0.0239],[145.3,0.0132],[148.9,0.0067],[152.6,0.0284],[156.4,0.0113],[160.4,0.0183],[164.4,0.009],[168.5,0.0207],[172.7,0.0141],[177.1,0.0122],[181.5,0.0083],[186,0.0179],[190.6,0.0106],[195.4,0.0209],[200.3,0.0152],[205.3,0.0091],
[41.5,0.0058],[43,0.0072],[44.5,0.0049],[46,0.0055],[47.5,0.0078],[49,0.0066],[51,0.0047],[52.5,0.0069],[54,0.0039],[55.5,0.0063],[57,0.0054],[58.5,0.0095],[60,0.0061],[61.5,0.0088],[63,0.0049],[64.5,0.0102],[66,0.0083],[67.5,0.0068],[69,0.0058],[70.5,0.0125],[72,0.0049],[73.5,0.0098],
[180,0.0063],[180,0.0077],[185,0.0351],[203,0.0108],[203,0.0121],[210,0.0165],[211,0.0317],[215,0.0203],[222,0.0225],[228,0.0295],[232,0.0358],[238,0.0358],[241,0.0255],[244,0.0317],[244,0.0281],[152,0.034],[160,0.0296],[168,0.029],[130,0.033],[100,0.0295]];

// ---------- layout (pixels) ----------
const FONT = '"Liberation Sans", Arial, sans-serif';
const layout = [
  {left: 50,  top: 36,  width: 334, height: 192, legendTop: 7},
  {left: 453, top: 36,  width: 334, height: 192, legendTop: 7},
  {left: 855, top: 36,  width: 334, height: 192, legendTop: 7},
  {left: 50,  top: 299, width: 331, height: 191, legendTop: 268},
  {left: 453, top: 299, width: 334, height: 191, legendTop: 268},
  {left: 855, top: 299, width: 334, height: 191, legendTop: 268}
];
const panelSeries = [
  [s30_aichi, s30_osaka, s30_tokyo],
  [s45_aichi, s45_osaka, s45_tokyo],
  [s60_aichi, s60_osaka, s60_tokyo],
  [s45x_aichi, s45x_osaka, s45x_tokyo],
  [s45y_aichi, s45y_osaka, s45y_tokyo],
  [rc40_aichi, rc40_osaka, rc40_tokyo]
];
const markStyle = [
  {symbol: 'triangle', symbolSize: 7, itemStyle: {color: '#0000ff', opacity: 1}},
  {symbol: 'circle', symbolSize: 7, itemStyle: {color: '#ff0000', opacity: 1}},
  {symbol: 'circle', symbolSize: 7, itemStyle: {color: '#ffffff', borderColor: '#000000', borderWidth: 1.3, opacity: 1}}
];

const series = [];
const graphic = [];
layout.forEach((g, i) => {
  const lineData = []
    .concat(xMinorLines.map(v => ({xAxis: v, lineStyle: {color: '#d9d9d9', width: 1, type: 'solid'}})))
    .concat(yMinorLines.map(v => ({yAxis: v, lineStyle: {color: '#d9d9d9', width: 1, type: 'solid'}})))
    .concat(xMajorLines.map(v => ({xAxis: v, lineStyle: {color: '#a6a6a6', width: 1.5, type: 'solid'}})))
    .concat(yMajorLines.map(v => ({yAxis: v, lineStyle: {color: '#a6a6a6', width: 1.5, type: 'solid'}})));
  series.push({
    type: 'scatter', name: 'grid' + i, xAxisIndex: i, yAxisIndex: i, data: [], silent: true, z: 1,
    markLine: {silent: true, z: 1, symbol: ['none', 'none'], label: {show: false},
      lineStyle: {type: 'solid'}, emphasis: {disabled: true}, animation: false, data: lineData}
  });
  seriesNames.forEach((name, k) => {
    series.push(Object.assign({
      type: 'scatter', name: name, xAxisIndex: i, yAxisIndex: i, z: 3 + k,
      data: panelSeries[i][k], emphasis: {disabled: true}, large: false, progressive: 0
    }, JSON.parse(JSON.stringify(markStyle[k]))));
  });
  graphic.push({type: 'rect', z: 50, silent: true,
    shape: {x: g.left + 17, y: g.top + 2, width: 66, height: 30}, style: {fill: '#ffffff'}});
  graphic.push({type: 'text', z: 51, silent: true, x: g.left + 50, y: g.top + 17,
    style: {text: panelNames[i], fontSize: 16, fontFamily: FONT, fill: '#000000', align: 'center', verticalAlign: 'middle'}});
  graphic.push({type: 'text', z: 51, silent: true, x: g.left + 9, y: g.top - 20,
    style: {text: yAxisName, fontSize: 13, fontStyle: 'italic', fontFamily: FONT, fill: '#262626', align: 'center', verticalAlign: 'middle'}});
  graphic.push({type: 'text', z: 51, silent: true, x: g.left + 274, y: g.top + g.height + 17,
    style: {text: xAxisName, fontSize: 12, fontStyle: 'italic', fontFamily: FONT, fill: '#404040', align: 'center', verticalAlign: 'middle'}});
});

const option = {
  backgroundColor: '#ffffff',
  animation: false,
  textStyle: {fontFamily: FONT},
  grid: layout.map(g => ({left: g.left, top: g.top, width: g.width, height: g.height, containLabel: false, outerBoundsMode: 'none', show: false})),
  xAxis: layout.map((g, i) => ({
    type: 'log', logBase: 10, min: 10, max: 1000, gridIndex: i,
    axisLine: {show: true, lineStyle: {color: '#bfbfbf', width: 1}},
    axisTick: {show: false},
    axisLabel: {color: '#595959', fontSize: 13, margin: 10, fontFamily: FONT,
      formatter: v => xTickLabels[Math.round(Math.log10(v)) - 1]},
    splitLine: {show: true, lineStyle: {color: '#d9d9d9', width: 1}}
  })),
  yAxis: layout.map((g, i) => ({
    type: 'log', logBase: 10, min: 0.001, max: 0.1, gridIndex: i,
    axisLine: {show: true, lineStyle: {color: '#bfbfbf', width: 1}},
    axisTick: {show: false},
    axisLabel: {color: '#595959', fontSize: 13, margin: 13, fontFamily: FONT,
      formatter: v => yTickLabels[Math.round(Math.log10(v)) + 3]},
    splitLine: {show: true, lineStyle: {color: '#d9d9d9', width: 1}}
  })),
  legend: layout.map(g => ({
    data: [{name: 'AICHI'}, {name: 'OSAKA'}, {name: 'TOKYO', itemStyle: {borderWidth: 1}}],
    left: g.left + 163, top: g.legendTop, orient: 'horizontal',
    itemWidth: 7, itemHeight: 7, itemGap: 10, padding: 0, selectedMode: false,
    textStyle: {fontSize: 11, color: '#595959', fontFamily: FONT}
  })),
  series: series,
  graphic: graphic
};

const chart = echarts.init(document.getElementById('c'), null, {renderer: 'canvas', width: 1207, height: 516});
chart.setOption(option);
</script>
</body></html>
